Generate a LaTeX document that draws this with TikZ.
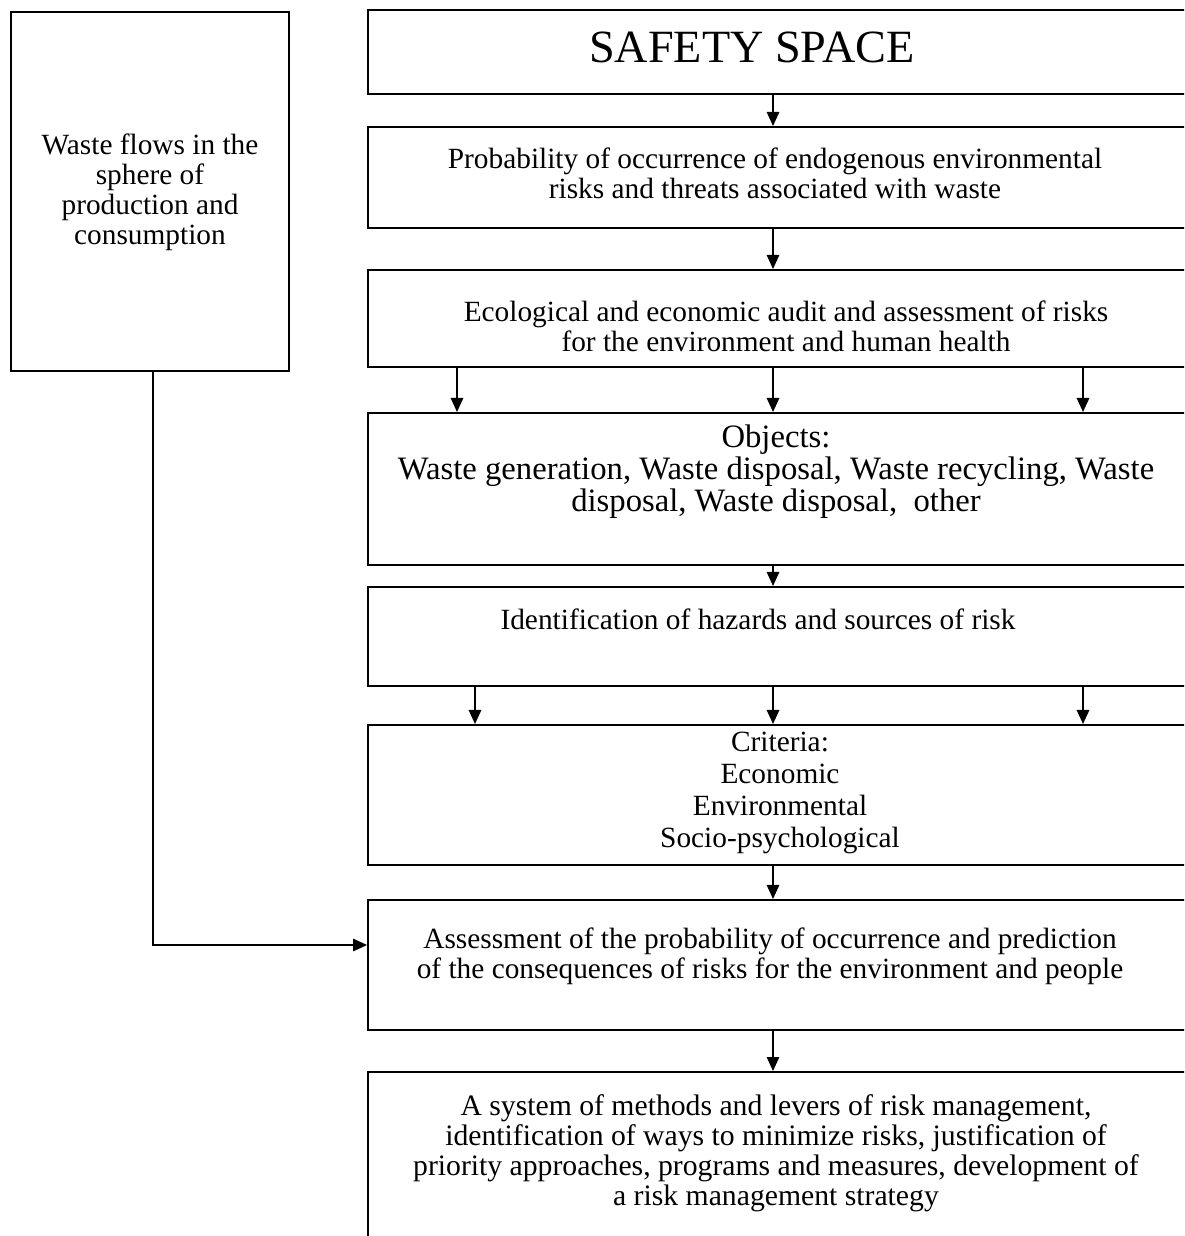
\documentclass[tikz,border=0pt]{standalone}
\usepackage{fontspec}
\setmainfont{Liberation Serif}
\usetikzlibrary{arrows.meta}

\begin{document}
\begin{tikzpicture}[x=0.02cm, y=-0.02cm,
    box/.style={draw, line width=1.1pt, inner sep=0pt},
    rbox/.style={box, minimum width=16.4cm},
    txt/.style={align=center, inner sep=0pt, font=\fontsize{16.7}{17}\selectfont},
    arr/.style={line width=1.1pt, -{Triangle[length=8pt, width=7pt]}}]
    \useasboundingbox (0, 0) rectangle (1184, 1236);
    \fill[white] (0, 0) rectangle (1184, 1236);
    \clip (0, 0) rectangle (1184, 1236);

    % left box
    \node[box, minimum width=5.56cm, minimum height=7.18cm] (wf) at (150, 191.5) {};
    \node[txt] (twf) at (150, 192) {Waste flows in the\\sphere of\\production and\\consumption};

    % right column
    \node[rbox, minimum height=1.68cm] (b1) at (778, 52) {};
    \node[rbox, minimum height=2.02cm] (b2) at (778, 177.5) {};
    \node[rbox, minimum height=1.94cm] (b3) at (778, 318.5) {};
    \node[rbox, minimum height=3.04cm] (b4) at (778, 489) {};
    \node[rbox, minimum height=1.98cm] (b5) at (778, 636.5) {};
    \node[rbox, minimum height=2.8cm] (b6) at (778, 795) {};
    \node[rbox, minimum height=2.6cm] (b7) at (778, 965) {};
    \node[rbox, minimum height=3.56cm] (b8) at (778, 1161) {};

    \node[txt, font=\fontsize{26.3}{30}\selectfont] (t1) at (752, 47) {SAFETY SPACE};
    \node[txt] (t2) at (775, 173) {Probability of occurrence of endogenous environmental\\risks and threats associated with waste};
    \node[txt] (t3) at (786, 326) {Ecological and economic audit and assessment of risks\\for the environment and human health};
    \node[txt, font=\fontsize{18.6}{18.2}\selectfont] (t4) at (776, 472) {Objects:\\Waste generation, Waste disposal, Waste recycling, Waste\\disposal, Waste disposal,\ \ other};
    \node[txt] (t5) at (758, 619) {Identification of hazards and sources of risk};
    \node[txt, font=\fontsize{16.7}{18.2}\selectfont] (t6) at (780, 793) {Criteria:\\Economic\\Environmental\\Socio-psychological};
    \node[txt] (t7) at (770, 956) {Assessment of the probability of occurrence and prediction\\of the consequences of risks for the environment and people};
    \node[txt, font=\fontsize{16.9}{17}\selectfont] (t8) at (776, 1153) {A system of methods and levers of risk management,\\identification of ways to minimize risks, justification of\\priority approaches, programs and measures, development of\\a risk management strategy};

    \coordinate (cM) at (773, 0);
    \coordinate (cL) at (457, 0);
    \coordinate (cL2) at (475, 0);
    \coordinate (cR) at (1083, 0);
    \coordinate (cF) at (153, 945);

    \draw[arr] (b1.south -| cM) -- (b2.north -| cM);
    \draw[arr] (b2.south -| cM) -- (b3.north -| cM);
    \draw[arr] (b3.south -| cL) -- (b4.north -| cL);
    \draw[arr] (b3.south -| cM) -- (b4.north -| cM);
    \draw[arr] (b3.south -| cR) -- (b4.north -| cR);
    \draw[arr] (b4.south -| cM) -- (b5.north -| cM);
    \draw[arr] (b5.south -| cL2) -- (b6.north -| cL2);
    \draw[arr] (b5.south -| cM) -- (b6.north -| cM);
    \draw[arr] (b5.south -| cR) -- (b6.north -| cR);
    \draw[arr] (b6.south -| cM) -- (b7.north -| cM);
    \draw[arr] (b7.south -| cM) -- (b8.north -| cM);
    \draw[arr] (wf.south -| cF) -- (cF) -- (b7.west |- cF);
\end{tikzpicture}
\end{document}
